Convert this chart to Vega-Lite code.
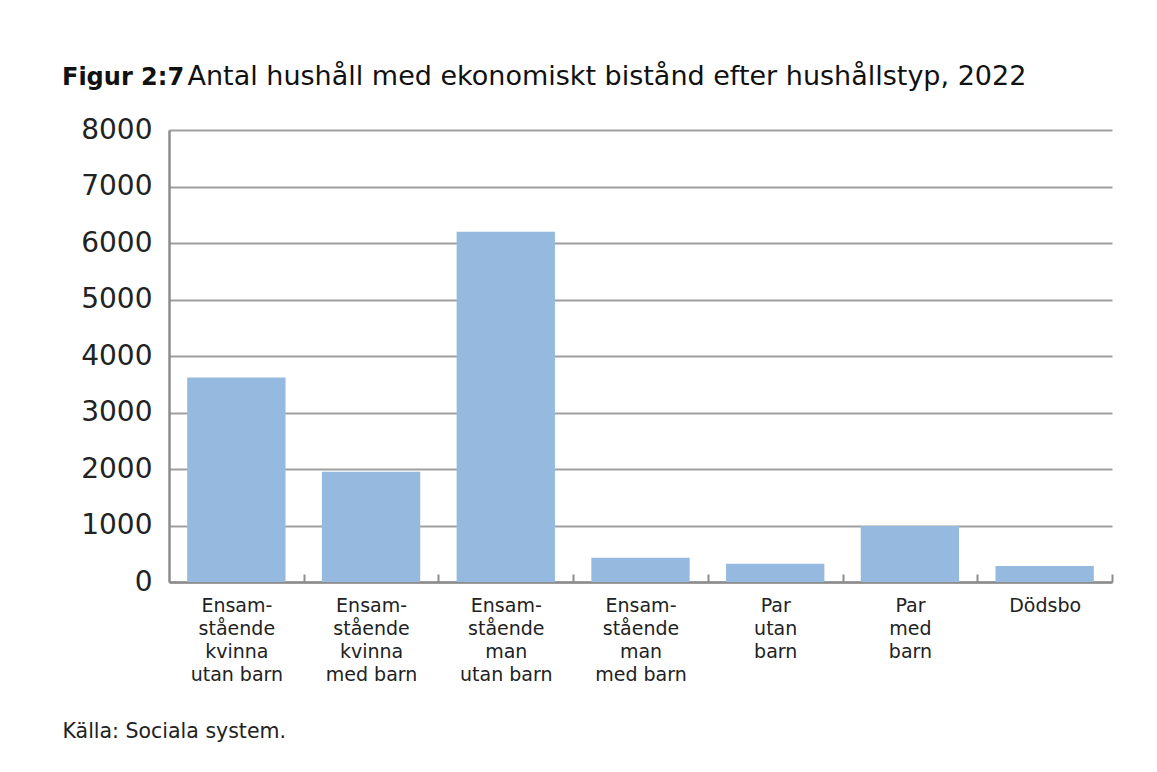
{
  "$schema": "https://vega.github.io/schema/vega-lite/v6.json",
  "width": 943,
  "height": 452,
  "autosize": "none",
  "padding": {"left": 169, "top": 130, "right": 45, "bottom": 190},
  "background": "white",
  "title": {
    "text": "Figur 2:7",
    "anchor": "start",
    "frame": "group",
    "dx": -107,
    "baseline": "alphabetic",
    "offset": -47,
    "font": "DejaVu Sans",
    "fontSize": 24,
    "fontWeight": "bold",
    "color": "#111111"
  },
  "data": {
    "values": [
      {"hushallstyp": "Ensam-\nstående\nkvinna\nutan barn", "antal": 3620},
      {"hushallstyp": "Ensam-\nstående\nkvinna\nmed barn", "antal": 1950},
      {"hushallstyp": "Ensam-\nstående\nman\nutan barn", "antal": 6200},
      {"hushallstyp": "Ensam-\nstående\nman\nmed barn", "antal": 430},
      {"hushallstyp": "Par\nutan\nbarn", "antal": 325},
      {"hushallstyp": "Par\nmed\nbarn", "antal": 990},
      {"hushallstyp": "Dödsbo", "antal": 285}
    ]
  },
  "mark": {"type": "bar", "color": "#96b9df"},
  "encoding": {
    "x": {
      "field": "hushallstyp",
      "type": "nominal",
      "sort": null,
      "scale": {"paddingInner": 0.27, "paddingOuter": 0.135},
      "axis": {
        "title": "Källa: Sociala system.",
        "titleX": -107,
        "titleY": 155,
        "titleAlign": "left",
        "titleAnchor": null,
        "titleBaseline": "alphabetic",
        "titleFont": "DejaVu Sans",
        "titleFontSize": 20.5,
        "titleFontWeight": "normal",
        "titleColor": "#222222",
        "labelAngle": 0,
        "labelExpr": "split(datum.label, '\\n')",
        "labelFont": "DejaVu Sans",
        "labelFontSize": 19,
        "labelLineHeight": 23,
        "labelColor": "#222222",
        "labelPadding": 22,
        "labelBaseline": "top",
        "labelOffset": -67.35,
        "tickOffset": 67.35,
        "tickSize": -8,
        "tickWidth": 2,
        "tickColor": "#8c8c8c",
        "domainColor": "#8c8c8c",
        "domainWidth": 2.5
      }
    },
    "y": {
      "field": "antal",
      "type": "quantitative",
      "scale": {"domain": [0, 8000]},
      "axis": {
        "values": [0, 1000, 2000, 3000, 4000, 5000, 6000, 7000, 8000],
        "format": "d",
        "title": "Antal hushåll med ekonomiskt bistånd efter hushållstyp, 2022",
        "titleAngle": 0,
        "titleX": 18,
        "titleY": -46,
        "titleAlign": "left",
        "titleAnchor": null,
        "titleBaseline": "alphabetic",
        "titleFont": "DejaVu Sans",
        "titleFontSize": 27,
        "titleFontWeight": "normal",
        "titleColor": "#111111",
        "labelFont": "DejaVu Sans",
        "labelFontSize": 28,
        "labelColor": "#222222",
        "labelPadding": 17,
        "ticks": false,
        "gridColor": "#a0a0a0",
        "gridWidth": 2,
        "domainColor": "#8c8c8c",
        "domainWidth": 2.5
      }
    }
  },
  "config": {
    "view": {"stroke": null}
  }
}
